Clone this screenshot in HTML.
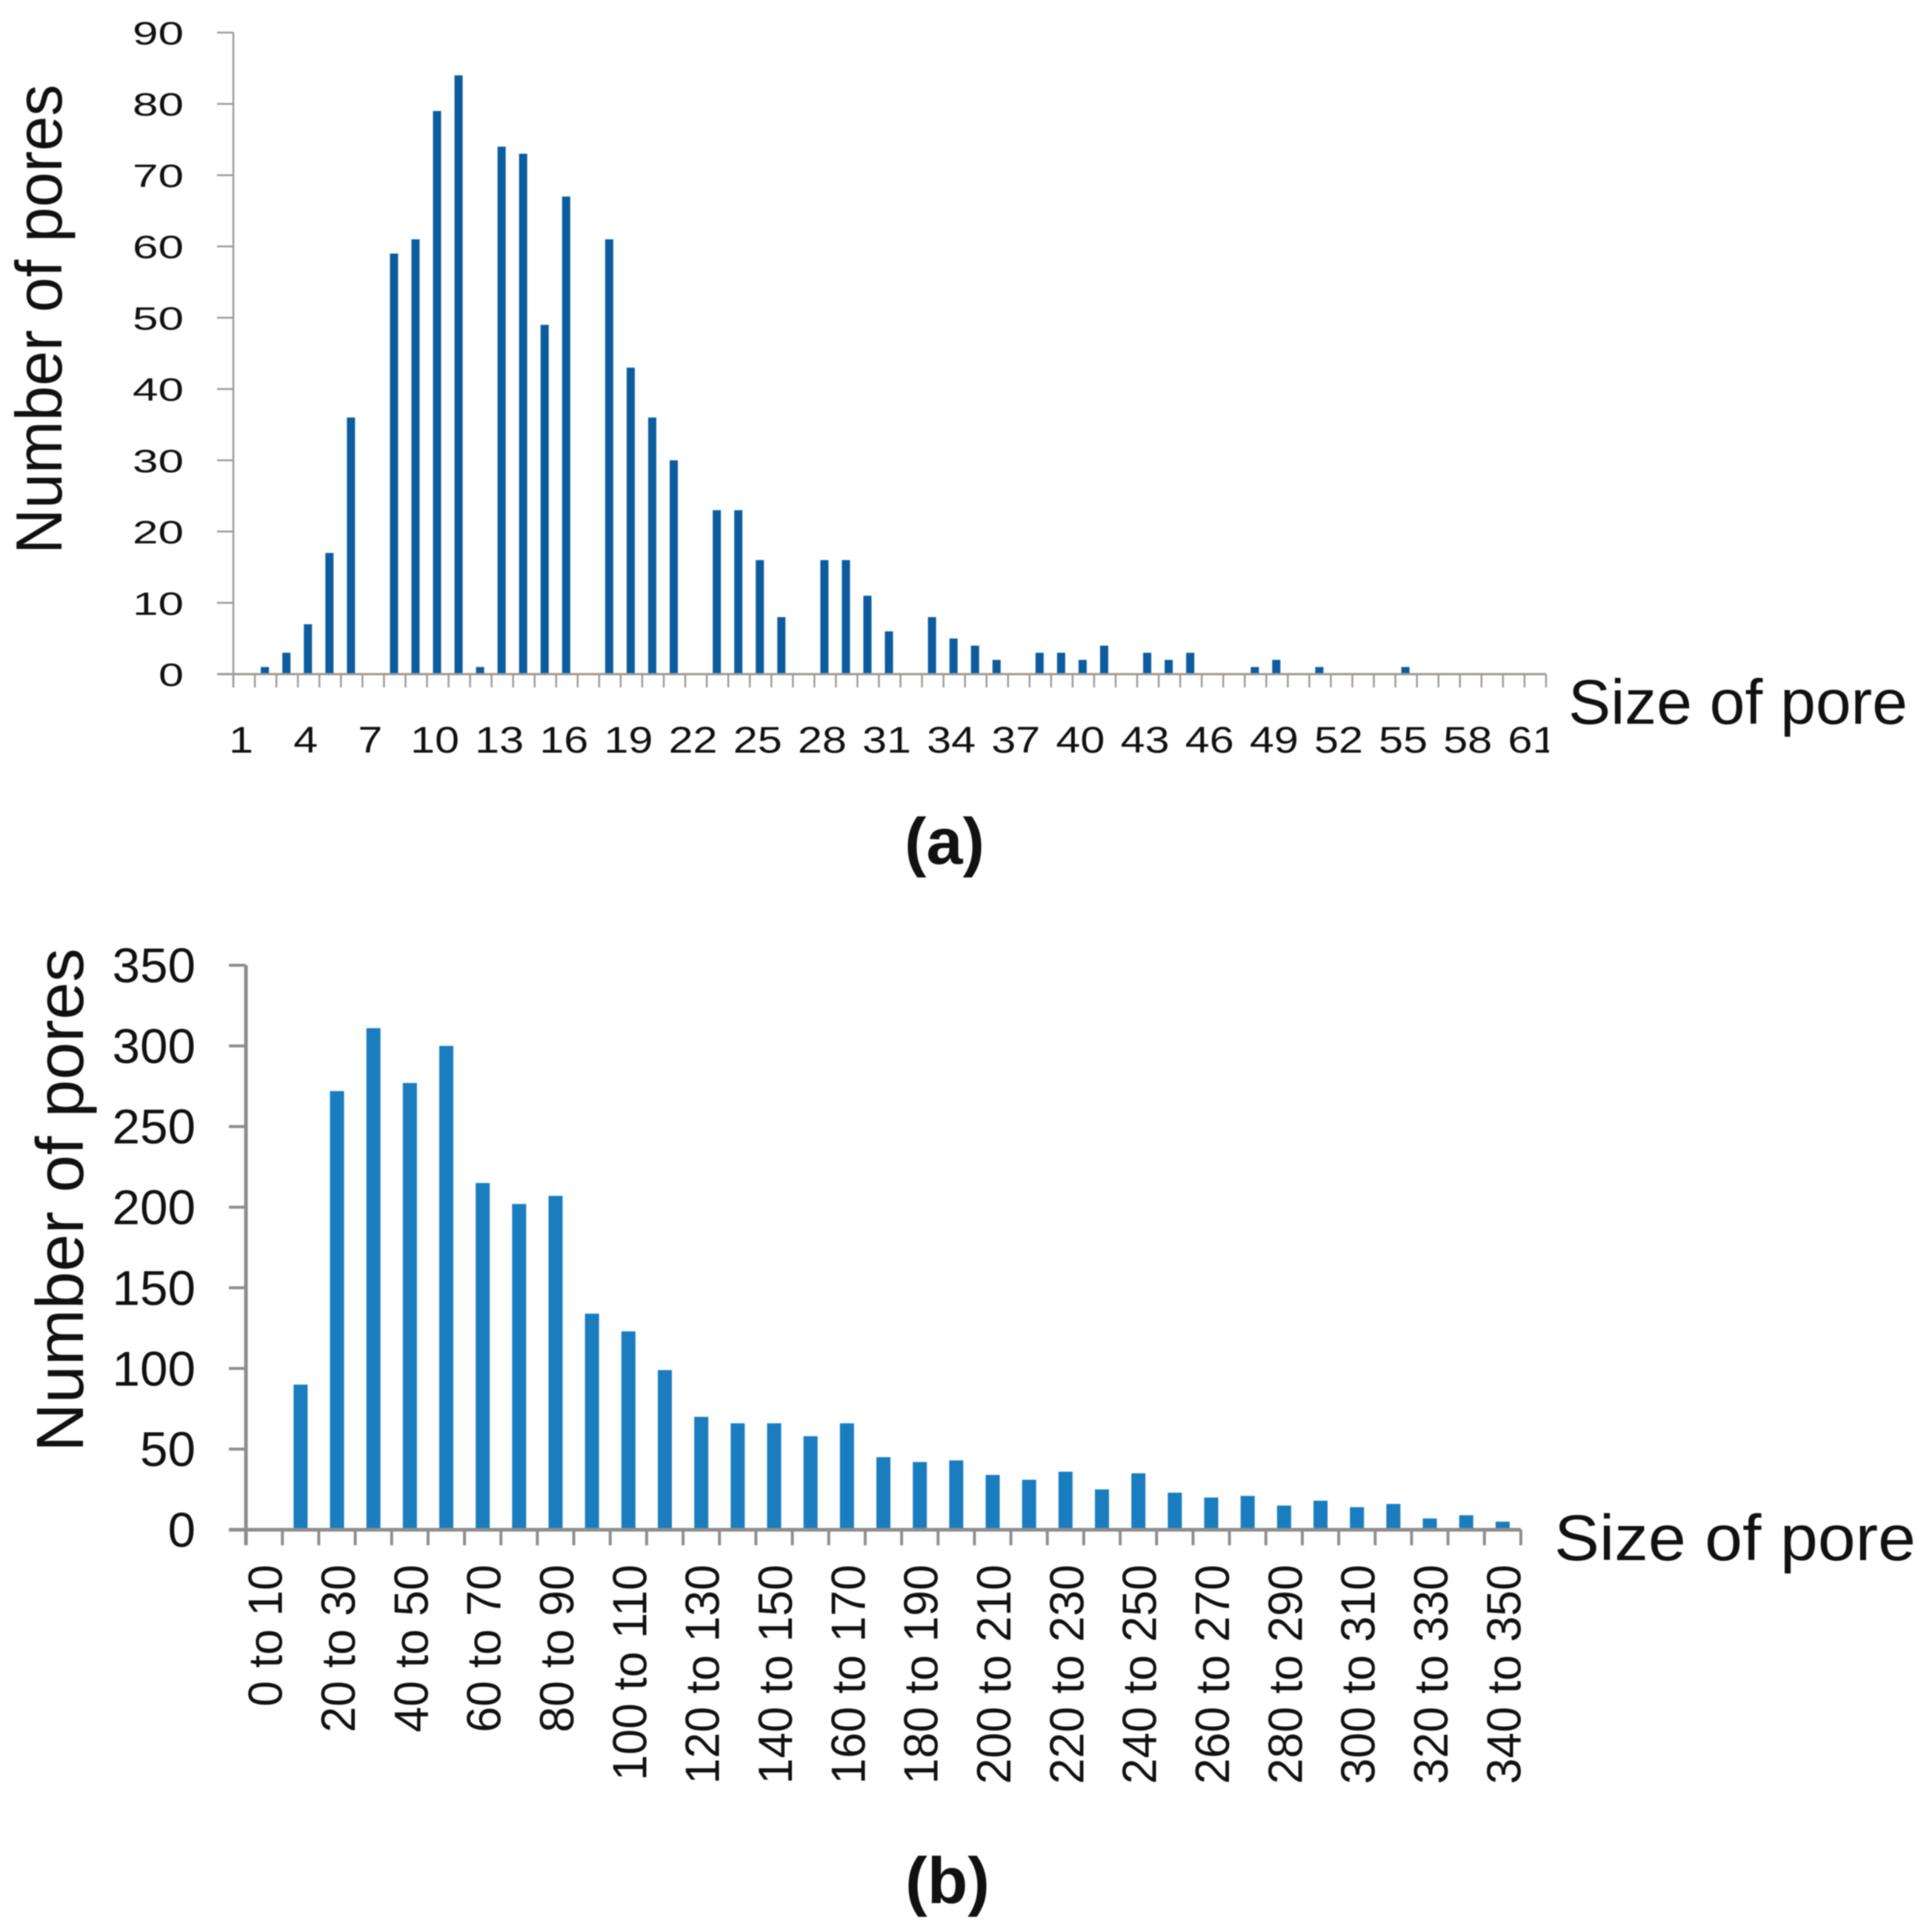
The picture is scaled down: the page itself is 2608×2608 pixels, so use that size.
<!DOCTYPE html>
<html lang="en">
<head>
<meta charset="utf-8">
<title>Pore size histograms</title>
<style>
html,body{margin:0;padding:0;background:#fff;}
svg{display:block;filter:blur(0.8px);}
text{font-family:"Liberation Sans",sans-serif;fill:#111;}
</style>
</head>
<body>
<svg id="figure" xmlns="http://www.w3.org/2000/svg" width="2608" height="2608" viewBox="0 0 2608 2608">
<defs><clipPath id="clip-a"><rect x="0" y="900" width="2091" height="200"/></clipPath></defs>
<rect width="2608" height="2608" fill="#ffffff"/>
<g id="chart-a">
<text transform="translate(83,748) rotate(-90)" font-size="88" textLength="634" lengthAdjust="spacingAndGlyphs">Number of pores</text>
<text x="2117" y="977" font-size="85" textLength="458" lengthAdjust="spacingAndGlyphs">Size of pore</text>
<text x="1221" y="1166" font-size="88" font-weight="bold" textLength="108" lengthAdjust="spacingAndGlyphs">(a)</text>
</g>
<g id="chart-b">
<text transform="translate(112,1960) rotate(-90)" font-size="90" textLength="680" lengthAdjust="spacingAndGlyphs">Number of pores</text>
<text x="2098" y="2106" font-size="87" textLength="488" lengthAdjust="spacingAndGlyphs">Size of pore</text>
<text x="1222" y="2569" font-size="88" font-weight="bold" textLength="114" lengthAdjust="spacingAndGlyphs">(b)</text>
</g>
</svg>
<script>
const aCategories = [];
for (let c = 1; c <= 61; c++) aCategories.push(c);
const aValues = [0,1,3,7,17,36,0,59,61,79,84,1,74,73,49,67,0,61,43,36,30,0,23,23,16,8,0,16,16,11,6,0,8,5,4,2,0,3,3,2,4,0,3,2,3,0,0,1,2,0,1,0,0,0,1,0,0,0,0,0,0];
const aYTicks = [0,10,20,30,40,50,60,70,80,90];
const aXLabels = ["1","4","7","10","13","16","19","22","25","28","31","34","37","40","43","46","49","52","55","58","61"];

const bCategories = ["0 to 10","10 to 20","20 to 30","30 to 40","40 to 50","50 to 60","60 to 70","70 to 80","80 to 90","90 to 100","100 to 110","110 to 120","120 to 130","130 to 140","140 to 150","150 to 160","160 to 170","170 to 180","180 to 190","190 to 200","200 to 210","210 to 220","220 to 230","230 to 240","240 to 250","250 to 260","260 to 270","270 to 280","280 to 290","290 to 300","300 to 310","310 to 320","320 to 330","330 to 340","340 to 350"];
const bValues = [0,90,272,311,277,300,215,202,207,134,123,99,70,66,66,58,66,45,42,43,34,31,36,25,35,23,20,21,15,18,14,16,7,9,5];
const bYTicks = [0,50,100,150,200,250,300,350];
const bLabelEvery = 2;

const NS = "http://www.w3.org/2000/svg";
function mk(parent, tag, props, text) {
  const el = document.createElementNS(NS, tag);
  for (const k in props) el.setAttribute(k, props[k]);
  if (text !== undefined) el.textContent = text;
  parent.appendChild(el);
  return el;
}

/* chart (a) */
const ga = document.getElementById("chart-a");
const aX0 = 315, aX1 = 2087, aY0 = 910, aPerUnit = (910 - 44) / 90;
const aBand = (aX1 - aX0) / aCategories.length;
function aX(i) { return aX0 + (i + 0.5) * aBand - 1; }
function aY(v) { return aY0 - v * aPerUnit; }

aValues.forEach(function (v, i) {
  if (v <= 0) return;
  const bar = mk(ga, "rect", {x: aX(i) - 5.5, y: aY(v), width: 11, height: aY0 - aY(v), fill: "#0c5c9f"});
  
  
});
const aYAxis = mk(ga, "line", {x1: aX0, x2: aX0, y1: aY(90), y2: aY0 + 18, stroke: "#9c9c9c", "stroke-width": 2.5});


const aXAxis = mk(ga, "line", {x1: aX0 - 22, x2: aX1, y1: aY0, y2: aY0, stroke: "#a09890", "stroke-width": 3});


aYTicks.forEach(function (v) {
  const t = mk(ga, "line", {x1: aX0 - 22, x2: aX0, y1: aY(v), y2: aY(v), stroke: "#9c9c9c", "stroke-width": 2.5});
  
  
  const l = mk(ga, "text", {x: 248, y: aY(v) + 16, "font-size": 44, "text-anchor": "end", textLength: 69, lengthAdjust: "spacingAndGlyphs", fill: "#222"}, String(v));
  if (v === 0) { l.setAttribute("textLength", 34); }
  
  
});
for (let i = 0; i <= aCategories.length; i++) {
  const t = mk(ga, "line", {x1: aX0 + i * aBand, x2: aX0 + i * aBand, y1: aY0, y2: aY0 + 18, stroke: "#9c9c9c", "stroke-width": 2.5});
  
  
}
const aLabelGroup = mk(ga, "g", {"clip-path": "url(#clip-a)"});


aXLabels.forEach(function (s) {
  const i = Number(s) - 1;
  const l = mk(aLabelGroup, "text", {x: aX(i) - 3, y: 1016, "font-size": 50, "text-anchor": "middle", textLength: s.length * 33, lengthAdjust: "spacingAndGlyphs", fill: "#222"}, s);
  
  
});

/* chart (b) */
const gb = document.getElementById("chart-b");
const bX0 = 332, bX1 = 2053, bY0 = 2065, bPerUnit = (2065 - 1303) / 350;
const bBand = (bX1 - bX0) / bCategories.length;
function bX(i) { return bX0 + (i + 0.5) * bBand; }
function bY(v) { return bY0 - v * bPerUnit; }

bValues.forEach(function (v, i) {
  if (v <= 0) return;
  const bar = mk(gb, "rect", {x: bX(i) - 9.5, y: bY(v), width: 19, height: bY0 - bY(v), fill: "#1a7dc0"});
  
  
});
const bYAxis = mk(gb, "line", {x1: bX0, x2: bX0, y1: bY(350), y2: bY0 + 21, stroke: "#8e8e8e", "stroke-width": 5});


const bXAxis = mk(gb, "line", {x1: bX0 - 23, x2: bX1, y1: bY0, y2: bY0, stroke: "#8e8e8e", "stroke-width": 5});


bYTicks.forEach(function (v) {
  const t = mk(gb, "line", {x1: bX0 - 23, x2: bX0, y1: bY(v), y2: bY(v), stroke: "#8e8e8e", "stroke-width": 4});
  
  
  const s = String(v);
  const l = mk(gb, "text", {x: 264, y: bY(v) + 23, "font-size": 66, "text-anchor": "end", textLength: s.length * 37.5, lengthAdjust: "spacingAndGlyphs"}, s);
  
  
});
for (let i = 0; i <= bCategories.length; i++) {
  const t = mk(gb, "line", {x1: bX0 + i * bBand, x2: bX0 + i * bBand, y1: bY0, y2: bY0 + 21, stroke: "#8e8e8e", "stroke-width": 4});
  
  
}
bCategories.forEach(function (s, i) {
  if (i % bLabelEvery !== 0) return;
  const cx = bX(i) + 24, top = 2112;
  const l = mk(gb, "text", {transform: "translate(" + cx + "," + top + ") rotate(-90) scale(0.98,1.02)", "font-size": 64, "text-anchor": "end"}, s);
  
  
});
</script>
</body>
</html>
